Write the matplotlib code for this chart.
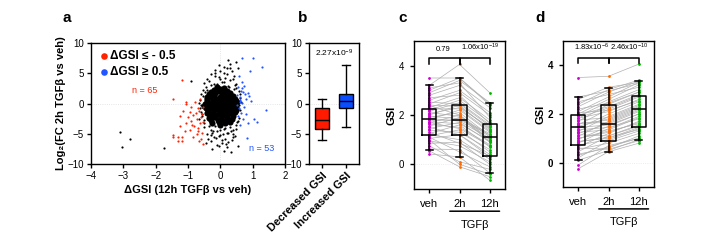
import matplotlib
matplotlib.use('Agg')
import matplotlib.pyplot as plt

plt.rcParams['font.family'] = ['Liberation Sans', 'DejaVu Sans']
plt.rcParams['font.size'] = 7
plt.rcParams['axes.linewidth'] = 1.0
plt.rcParams['mathtext.fontset'] = 'custom'
plt.rcParams['mathtext.rm'] = 'Liberation Sans'
plt.rcParams['mathtext.it'] = 'Liberation Sans:italic'
plt.rcParams['mathtext.bf'] = 'Liberation Sans:bold'

# ---- panel a : scatter data ----
core_x = [-0.2, 0.0, 0.2, -0.35, -0.15, 0.05, 0.25, 0.38, -0.42, -0.25, -0.08, 0.1, 0.28, 0.45,
          -0.48, -0.3, -0.12, 0.05, 0.22, 0.4, 0.52, -0.45, -0.28, -0.1, 0.08, 0.25, 0.42,
          -0.4, -0.22, -0.05, 0.12, 0.3, 0.45, -0.35, -0.15, 0.02, 0.2, 0.35, -0.25, -0.05, 0.15, 0.3,
          -0.28, -0.08, 0.12, 0.3, -0.42, -0.2, 0.0, 0.18, 0.36,
          -0.4, -0.2, -0.02, 0.15, 0.32, 0.48, -0.5, -0.36, -0.2, -0.02, 0.15, 0.32, 0.5,
          -0.38, -0.2, 0.0, 0.18, 0.36, 0.5, -0.32, -0.12, 0.05, 0.22, 0.4,
          -0.28, -0.08, 0.1, 0.28, -0.1, 0.1, 0.0]
core_y = [2.2, 2.4, 2.1, 1.5, 1.7, 1.6, 1.4, 1.2, 0.8, 0.9, 0.7, 0.9, 0.6, 0.7,
          0.0, 0.1, -0.1, 0.1, -0.1, 0.0, 0.2, -0.8, -0.7, -0.9, -0.7, -0.9, -0.8,
          -1.6, -1.5, -1.7, -1.5, -1.6, -1.4, -2.4, -2.3, -2.5, -2.3, -2.5, -3.2, -3.1, -3.3, -3.0,
          1.9, 2.0, 1.85, 1.8, 1.1, 1.2, 1.1, 1.2, 1.0,
          0.4, 0.45, 0.35, 0.4, 0.3, 0.45, -0.4, -0.4, -0.35, -0.45, -0.4, -0.35, -0.5,
          -1.2, -1.15, -1.25, -1.1, -1.2, -1.0, -2.0, -1.95, -2.05, -1.9, -2.0,
          -2.8, -2.75, -2.85, -2.7, 2.7, 2.6, -3.6]
black_x = [-3.1, -3.05, -2.8, -1.75, -0.92, 0.25, 0.5, 0.3, -0.05, 0.55, 0.2, -0.15, 0.35, 0.1,
           -0.3, 0.42, -0.05, 0.15, -0.5, -0.35, 0.3, 0.05, -0.2, 0.45, -0.45, 0.25,
           0.32, 0.2, -0.1, 0.05, -0.3, 0.35, 0.15, -0.2, 0.45, 0.0, -0.4, 0.25, -0.1, 0.4,
           -0.3, 0.1, -0.5, 0.3, -0.15, 0.5, -0.45, 0.55, -0.25, 0.1, -0.55, 0.58, -0.6, 0.6,
           -0.58, 0.56, -0.62, 0.5, -0.52, 0.48, -0.55, 0.62, -0.6, 0.57, -0.65, 0.4, -0.4,
           0.38, -0.38, 0.05, -0.05, 0.22, -0.22, 0.48, -0.48,
           -0.1, 0.12, -0.3, 0.28, 0.0, -0.18, 0.2, -0.4, 0.42, -0.02, 0.15, -0.25, 0.33,
           -0.35, 0.08, -0.12, 0.25, -0.05, 0.18, -0.28, 0.38, -0.6, 0.62, -0.63, 0.64,
           -0.57, 0.59, -0.66, 0.54, -0.5, 0.52, 0.0, 0.1, -0.15, 0.3]
black_y = [-4.7, -7.2, -5.8, -7.3, 3.8, 7.2, 6.9, 6.5, 6.3, 5.8, 5.8, 5.6, 5.3, 5.0,
           4.8, 4.6, 4.4, 4.2, 3.4, 3.8, 3.9, 3.6, 3.3, 3.1, 2.7, 2.9,
           -8.0, -7.2, -6.8, -6.5, -6.2, -6.0, -5.8, -5.5, -5.3, -5.2, -5.0, -4.8, -4.6, -4.4,
           -4.3, -4.2, -3.9, -3.9, -3.8, -3.5, -6.6, -7.0, -7.5, -7.8, 1.2, 2.0, -0.3, -1.1,
           -2.1, -2.9, 0.6, 3.3, -3.3, -4.2, 2.2, 0.9, -1.4, -0.2, -2.6, 4.1, 4.0,
           -5.6, -5.9, -6.0, -5.4, -4.9, -4.6, 2.6, 1.9,
           3.2, 3.5, 3.0, 2.8, 4.0, 4.5, 4.9, 2.3, 2.4, -4.4, -4.0, -4.9, -4.5,
           -3.7, -5.0, -5.7, -6.3, -7.0, -6.7, -5.2, -5.0, 1.6, 1.5, -0.8, 0.3,
           -1.8, -2.4, 0.1, -0.9, -2.8, -3.0, 5.4, 6.0, 5.1, 5.9]
red_x = [-1.2, -1.47, -1.07, -1.05, -0.9, -0.78, -0.7, -0.65, -0.75, -0.85, -0.95, -1.15, -1.25,
         -0.6, -0.72, -0.9, -1.05, -1.25, -0.8, -0.62, -0.68, -0.95, -1.1, -1.45, -1.45, -1.3,
         -1.2, -1.3, -1.18, -0.85, -0.72, -0.6, -0.55, -0.65, -0.58, -0.55, -0.62, -0.88, -1.0,
         -0.7, -0.53, -0.56]
red_y = [3.9, 0.7, 0.3, -0.1, -0.6, 0.2, -0.8, -1.2, -1.6, -1.9, -1.4, -1.3, -2.0,
         -2.3, -2.6, -2.9, -3.3, -3.8, -3.7, -3.2, -4.0, -4.4, -4.6, -5.2, -5.6, -5.6,
         -5.6, -6.2, -6.2, -5.5, -5.0, -5.8, -6.7, -6.2, -1.7, -0.6, 0.8, -3.5, -2.3,
         -4.5, -3.0, -4.8]
blue_x = [0.68, 1.02, 1.28, 0.92, 0.58, 0.66, 0.72, 0.65, 0.75, 0.85, 0.9, 0.78, 0.62, 0.68,
          1.42, 0.52, 0.58, 0.64, 0.55, 0.7, 1.05, 1.12, 0.86, 0.83, 0.6, 0.7, 0.56, 0.6, 0.74,
          0.95, 0.53, 0.8, 0.62, 0.66]
blue_y = [7.5, 7.6, 6.0, 5.4, 4.5, 3.5, 2.9, 2.0, 1.5, 1.7, 1.2, 0.7, 0.5, 0.1,
          -1.0, -0.3, -0.8, -1.6, -2.0, -2.6, -2.6, -3.1, -3.2, -5.7, 1.0, 1.9, 2.8, 0.2, -0.5,
          0.4, 1.4, -1.8, -3.6, 2.5]

# ---- panel b : box stats ----
b_labels = ['Decreased GSI', 'Increased GSI']
b_low = [-6.0, -3.9]
b_q1 = [-4.2, -0.8]
b_med = [-2.7, 0.4]
b_q3 = [-0.8, 1.5]
b_high = [0.8, 6.4]
b_colors = ['#ff1a00', '#0a4dff']

# ---- panels c, d : paired GSI values ----
groups = ['veh', '2h', '12h']
group_colors = ['#cc00cc', '#ff6a00', '#00b300']

c_veh = [0.42, 0.55, 0.62, 0.75, 0.85, 0.95, 1.05, 1.1, 1.15, 1.2, 1.25, 1.3, 1.38, 1.45, 1.5,
         1.55, 1.62, 1.68, 1.72, 1.78, 1.82, 1.86, 1.9, 1.95, 2.0, 2.05, 2.1, 2.15, 2.2, 2.25,
         2.3, 2.38, 2.45, 2.52, 2.6, 2.7, 2.8, 2.9, 3.0, 3.1, 3.2, 3.5, 1.0, 1.7, 2.4]
c_2h = [0.3, -0.1, 0.6, 0.1, 0.9, 0.75, 1.2, 0.5, 1.4, 1.0, 1.6, 0.85, 1.3, 1.7, 1.2,
        1.9, 1.5, 2.0, 1.65, 1.8, 2.2, 1.75, 2.1, 1.85, 2.4, 2.3, 1.95, 2.5, 2.6, 2.25,
        2.7, 2.0, 2.9, 2.45, 3.0, 2.8, 3.2, 3.4, 3.5, 3.3, 4.05, 3.5, 0.0, 1.45, 2.35]
c_12h = [-0.65, -0.5, -0.35, -0.2, 0.0, 0.1, 0.3, -0.1, 0.5, 0.2, 0.7, 0.35, 0.6, 0.9, 0.4,
         1.0, 0.8, 1.1, 0.95, 1.2, 1.3, 1.05, 1.15, 1.25, 1.4, 1.5, 0.9, 1.6, 1.7, 1.35,
         1.8, 1.0, 2.0, 1.55, 2.1, 1.65, 2.3, 2.5, 2.4, 1.9, 2.9, 2.45, -0.4, 0.75, 1.45]
c_low = [0.6, 0.3, -0.35]
c_q1 = [1.2, 1.2, 0.35]
c_med = [1.85, 1.8, 1.1]
c_q3 = [2.25, 2.4, 1.65]
c_high = [3.2, 3.5, 2.5]
c_pvals = ['0.79', '1.06x10$^{-19}$']

d_veh = [-0.25, -0.1, 0.1, 0.2, 0.35, 0.45, 0.55, 0.65, 0.72, 0.8, 0.88, 0.95, 1.0, 1.08, 1.15,
         1.2, 1.28, 1.35, 1.4, 1.45, 1.5, 1.55, 1.62, 1.7, 1.75, 1.82, 1.9, 1.95, 2.0, 2.1,
         2.2, 2.3, 2.4, 2.5, 2.6, 2.7, 3.5, 0.6, 1.25, 1.85, 0.3, 1.0, 2.05, 1.6, 0.85]
d_2h = [0.45, 0.7, 0.5, 0.9, 0.6, 1.1, 0.8, 1.2, 0.95, 1.4, 1.0, 1.5, 1.3, 1.7, 1.1,
        1.6, 1.9, 1.45, 2.0, 1.55, 1.8, 2.2, 1.65, 2.4, 1.85, 2.1, 2.5, 2.3, 2.6, 2.7,
        2.45, 2.9, 3.0, 2.8, 3.1, 2.95, 3.55, 0.55, 1.35, 2.25, 0.65, 1.25, 2.15, 1.75, 1.05]
d_12h = [0.8, 1.0, 0.95, 1.3, 1.1, 1.5, 1.2, 1.7, 1.4, 1.9, 1.45, 2.0, 1.6, 2.2, 1.55,
         2.1, 2.4, 1.8, 2.5, 2.0, 2.3, 2.7, 2.15, 2.9, 2.35, 2.6, 3.0, 2.8, 3.2, 3.3,
         2.9, 3.35, 3.4, 3.1, 3.3, 3.25, 4.05, 0.9, 1.85, 2.75, 1.0, 1.65, 2.55, 2.25, 1.35]
d_low = [0.11, 0.42, 0.92]
d_q1 = [0.74, 0.88, 1.47]
d_med = [1.45, 1.59, 2.19]
d_q3 = [1.95, 2.37, 2.76]
d_high = [2.69, 3.07, 3.37]
d_pvals = ['1.83x10$^{-6}$', '2.46x10$^{-10}$']

W, H = 726, 241
fig = plt.figure(figsize=(W / 100, H / 100), dpi=100)


def px_axes(left, top, right, bottom):
    return fig.add_axes([left / W, 1 - bottom / H, (right - left) / W, (bottom - top) / H])


# panel a
ax = px_axes(91, 43, 285, 164)
ax.axhline(0, color='#dddddd', lw=0.6, ls=':', zorder=0)
ax.axvline(0, color='#dddddd', lw=0.6, ls=':', zorder=0)
ax.scatter(black_x, black_y, s=2.5, color='black', lw=0)
ax.scatter(core_x, core_y, s=20, color='black', lw=0)
ax.scatter(red_x, red_y, s=2.5, color='#ff2200', lw=0, label='ΔGSI ≤ - 0.5')
ax.scatter(blue_x, blue_y, s=2.5, color='#2255ff', lw=0, label='ΔGSI ≥ 0.5')
ax.set_xlim(-4, 2)
ax.set_ylim(-10, 10)
ax.set_xticks([-4, -3, -2, -1, 0, 1, 2])
ax.set_yticks([-10, -5, 0, 5, 10])
ax.set_xlabel('ΔGSI (12h TGFβ vs veh)', fontsize=8, fontweight='bold', labelpad=3)
ax.set_ylabel('Log₂(FC 2h TGFβ vs veh)', fontsize=8, fontweight='bold', labelpad=1)
ax.text(-2.33, 2.1, 'n = 65', color='#ff2200', fontsize=6.5, ha='center', va='center')
ax.text(1.28, -7.4, 'n = 53', color='#2255ff', fontsize=6.5, ha='center', va='center')
ax.legend(loc='upper left', frameon=False, markerscale=3, handletextpad=0.0,
          borderaxespad=0.2, labelspacing=0.3, handlelength=1.0,
          prop={'weight': 'bold', 'size': 8.5})
ax.tick_params(length=3, width=1, pad=2)

# panel b
ax = px_axes(309, 43, 359, 164)
ax.axhline(0, color='#dddddd', lw=0.6, ls=':', zorder=0)
stats = [dict(whislo=b_low[i], q1=b_q1[i], med=b_med[i], q3=b_q3[i], whishi=b_high[i],
              label=b_labels[i]) for i in range(2)]
bp = ax.bxp(stats, positions=[1, 2], widths=0.58, patch_artist=True, showfliers=False,
            boxprops=dict(lw=1), medianprops=dict(color='black', lw=1),
            whiskerprops=dict(lw=1), capprops=dict(lw=1), capwidths=0.3)
for patch, col in zip(bp['boxes'], b_colors):
    patch.set_facecolor(col)
ax.set_xlim(0.46, 2.54)
ax.set_ylim(-10, 10)
ax.set_yticks([-10, -5, 0, 5, 10])
ax.set_xticks([1, 2])
ax.set_xticklabels(b_labels, rotation=45, ha='right', rotation_mode='anchor',
                   fontsize=8, fontweight='bold')
ax.text(1.5, 9.3, '2.27x10$^{-9}$', fontsize=6, ha='center', va='top')
ax.tick_params(length=3, width=1, pad=2)


def paired_panel(box, vals, lows, q1s, meds, q3s, highs, pvals, bold_ticks):
    ax = px_axes(*box)
    ax.axhline(0, color='#e6e6e6', lw=0.6, ls=':', zorder=0)
    for k in range(len(vals[0])):
        ax.plot([0, 1, 2], [vals[0][k], vals[1][k], vals[2][k]], color='#b0b0b0', lw=0.5, zorder=1)
    for g in range(3):
        ax.scatter([g] * len(vals[g]), vals[g], s=4, color=group_colors[g], lw=0, zorder=2)
    stats = [dict(whislo=lows[i], q1=q1s[i], med=meds[i], q3=q3s[i], whishi=highs[i])
             for i in range(3)]
    ax.bxp(stats, positions=[0, 1, 2], widths=0.47, showfliers=False, patch_artist=False,
           boxprops=dict(lw=1.1), medianprops=dict(color='black', lw=1.1),
           whiskerprops=dict(lw=1.1), capprops=dict(lw=1.1), capwidths=0.22, zorder=3)
    # significance brackets
    ax.plot([0, 0, 1, 1], [4.08, 4.3, 4.3, 4.08], color='black', lw=1.1)
    ax.plot([1, 1, 2, 2], [4.08, 4.3, 4.3, 4.08], color='black', lw=1.1)
    ax.text(0.45, 4.5, pvals[0], fontsize=5.5, ha='center', va='bottom')
    ax.text(1.68, 4.5, pvals[1], fontsize=5.5, ha='center', va='bottom')
    ax.set_xlim(-0.5, 2.5)
    ax.set_ylim(-1, 5)
    ax.set_yticks([0, 2, 4])
    ax.set_xticks([0, 1, 2])
    ax.set_xticklabels(groups, fontsize=8)
    ax.tick_params(length=3, width=1, pad=4)
    if bold_ticks:
        for t in ax.get_yticklabels():
            t.set_fontweight('bold')
    ax.set_ylabel('GSI', fontsize=8, fontweight='bold', labelpad=2)
    # TGFβ group line below the axis
    ax.annotate('', xy=(0.68, -0.15), xytext=(2.32, -0.15), xycoords=('data', 'axes fraction'),
                textcoords=('data', 'axes fraction'),
                arrowprops=dict(arrowstyle='-', lw=1.1, color='black', shrinkA=0, shrinkB=0))
    ax.text(1.5, -0.24, 'TGFβ', fontsize=8, ha='center', va='center',
            transform=ax.get_xaxis_transform())
    return ax


paired_panel((414, 41, 505, 189), [c_veh, c_2h, c_12h], c_low, c_q1, c_med, c_q3, c_high,
             c_pvals, False)
paired_panel((563, 41, 654, 187), [d_veh, d_2h, d_12h], d_low, d_q1, d_med, d_q3, d_high,
             d_pvals, True)

for letter, x in [('a', 67), ('b', 303), ('c', 403), ('d', 540)]:
    fig.text(x / W, 1 - 18 / H, letter, fontsize=11, fontweight='bold', ha='center', va='center')

fig.savefig('out.png', dpi=100)
